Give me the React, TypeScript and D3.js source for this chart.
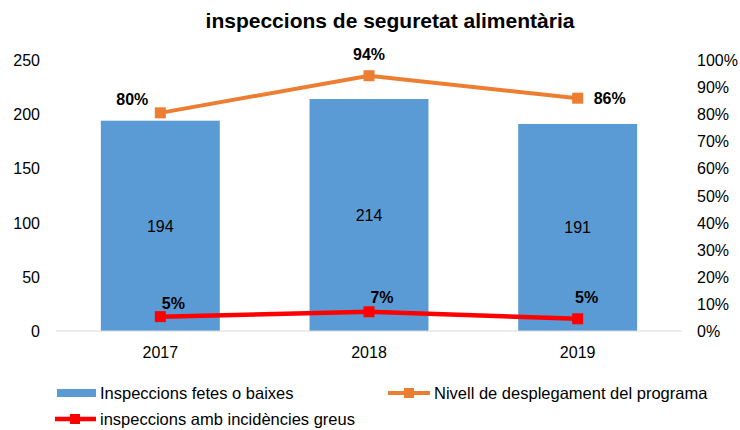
import React from "react";
import * as d3 from "d3";

const categories = ["2017", "2018", "2019"];
const inspeccions = [194, 214, 191];
const nivell = [0.805, 0.942, 0.859];
const nivellLabels = ["80%", "94%", "86%"];
const greus = [0.053, 0.071, 0.045];
const greusLabels = ["5%", "7%", "5%"];
const leftTicks = [0, 50, 100, 150, 200, 250];
const rightTicks = [0, 0.1, 0.2, 0.3, 0.4, 0.5, 0.6, 0.7, 0.8, 0.9, 1.0];

const W = 740, H = 430;
const BLUE = "#5B9BD5", ORANGE = "#ED7D31", RED = "#FF0000";
const FONT = "'Liberation Sans', Arial, sans-serif";

export default function App() {
  const x = d3.scaleBand().domain(categories).range([56, 682]).paddingInner(0.43).paddingOuter(0.215);
  const yL = d3.scaleLinear().domain([0, 250]).range([331, 60]);
  const yR = d3.scaleLinear().domain([0, 1]).range([331, 60]);
  const cx = (c: string) => (x(c) as number) + x.bandwidth() / 2;
  const line = d3.line<number>().x((_, i) => cx(categories[i])).y((d) => yR(d));
  const nivellOffsets = [[-28, -8], [0, -16], [32, 6]];
  const greusOffsets = [[13, -8], [13, -9], [9, -16]];
  return (
    <svg width={W} height={H} style={{ position: "absolute", left: 0, top: 0, fontFamily: FONT }}>
      <rect width={W} height={H} fill="#fff" />
      <text x={390} y={28} textAnchor="middle" fontSize={21} fontWeight="bold" fill="#000">
        inspeccions de seguretat alimentària
      </text>
      {leftTicks.map((t) => (
        <text key={t} x={40} y={yL(t) + 6} textAnchor="end" fontSize={16} fill="#000">{t}</text>
      ))}
      {rightTicks.map((t) => (
        <text key={t} x={697} y={yR(t) + 6} textAnchor="start" fontSize={16} fill="#000">{d3.format(".0%")(t)}</text>
      ))}
      {categories.map((c, i) => (
        <g key={c}>
          <rect x={x(c)} y={yL(inspeccions[i])} width={x.bandwidth()} height={yL(0) - yL(inspeccions[i])} fill={BLUE} />
          <text x={cx(c)} y={(yL(inspeccions[i]) + yL(0)) / 2 + 6} textAnchor="middle" fontSize={16} fill="#000">{inspeccions[i]}</text>
          <text x={cx(c)} y={358} textAnchor="middle" fontSize={16} fill="#000">{c}</text>
        </g>
      ))}
      <line x1={56} x2={682} y1={331} y2={331} stroke="#D9D9D9" strokeWidth={1} />
      <path d={line(nivell) || ""} fill="none" stroke={ORANGE} strokeWidth={4} />
      {nivell.map((v, i) => (
        <g key={i}>
          <rect x={cx(categories[i]) - 5.5} y={yR(v) - 5.5} width={11} height={11} fill={ORANGE} />
          <text x={cx(categories[i]) + nivellOffsets[i][0]} y={yR(v) + nivellOffsets[i][1]} textAnchor="middle" fontSize={16} fontWeight="bold" fill="#000">{nivellLabels[i]}</text>
        </g>
      ))}
      <path d={line(greus) || ""} fill="none" stroke={RED} strokeWidth={4.5} />
      {greus.map((v, i) => (
        <g key={i}>
          <rect x={cx(categories[i]) - 5.5} y={yR(v) - 5.5} width={11} height={11} fill={RED} />
          <text x={cx(categories[i]) + greusOffsets[i][0]} y={yR(v) + greusOffsets[i][1]} textAnchor="middle" fontSize={16} fontWeight="bold" fill="#000">{greusLabels[i]}</text>
        </g>
      ))}
      {/* legend */}
      <rect x={57} y={389} width={39} height={8} fill={BLUE} />
      <text x={100} y={399} fontSize={16.5} fill="#000">Inspeccions fetes o baixes</text>
      <line x1={388} x2={430} y1={393} y2={393} stroke={ORANGE} strokeWidth={4} />
      <rect x={404} y={388} width={10} height={10} fill={ORANGE} />
      <text x={434} y={399} fontSize={16.5} fill="#000">Nivell de desplegament del programa</text>
      <line x1={55} x2={96} y1={419} y2={419} stroke={RED} strokeWidth={4.5} />
      <rect x={70} y={414} width={10} height={10} fill={RED} />
      <text x={100} y={425} fontSize={16.5} fill="#000">inspeccions amb incidències greus</text>
    </svg>
  );
}
